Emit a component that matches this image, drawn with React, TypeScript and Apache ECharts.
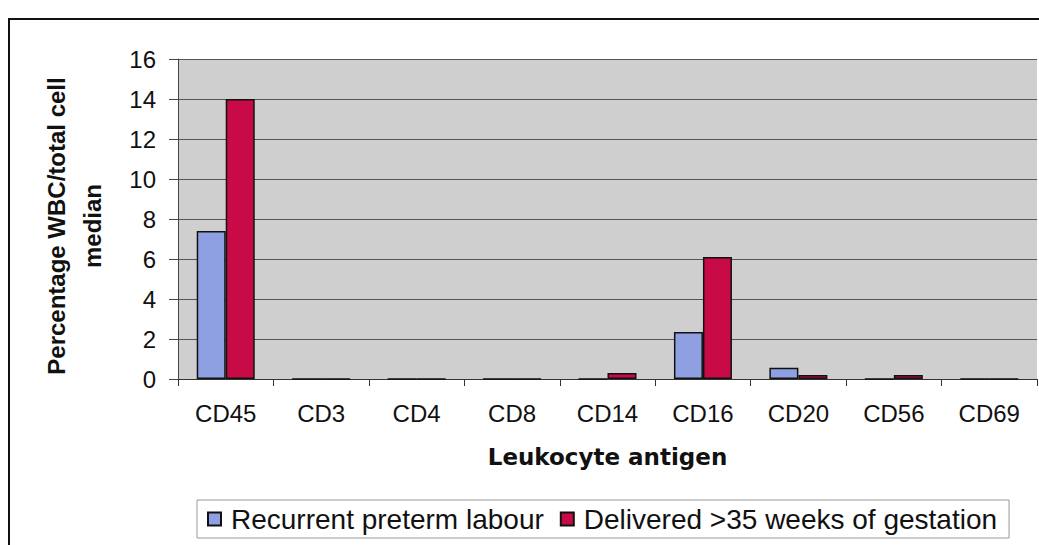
import React, { useEffect, useRef } from "react";
import * as echarts from "echarts";

const categories = ["CD45", "CD3", "CD4", "CD8", "CD14", "CD16", "CD20", "CD56", "CD69"];
const recurrentPreterm = [7.4, 0, 0, 0, 0, 2.35, 0.56, 0, 0];
const deliveredTerm = [14.0, 0, 0, 0, 0.3, 6.1, 0.2, 0.2, 0];
const seriesNames = ["Recurrent preterm labour", "Delivered >35 weeks of gestation"];

const FONT = "'Liberation Sans', Arial, sans-serif";

export default function App() {
  const ref = useRef<HTMLDivElement>(null);
  useEffect(() => {
    if (!ref.current) return;
    const chart = echarts.init(ref.current, undefined, { renderer: "svg" });
    chart.setOption({
      animation: false,
      backgroundColor: "#ffffff",
      textStyle: { fontFamily: FONT },
      graphic: [
        {
          type: "rect",
          shape: { x: 9, y: 19, width: 1100, height: 600 },
          style: { fill: "none", stroke: "#111", lineWidth: 2 },
          silent: true,
        },
      ],
      grid: {
        left: 178,
        right: 2,
        top: 59,
        bottom: 166,
        show: true,
        backgroundColor: "#cfcfcf",
        borderWidth: 0,
      },
      legend: {
        left: 197,
        top: 500,
        itemWidth: 13,
        itemHeight: 13,
        itemGap: 16,
        padding: [5, 12, 5, 10],
        borderColor: "#999",
        borderWidth: 1,
        backgroundColor: "#fff",
        icon: "rect",
        textStyle: { fontSize: 28, color: "#111", fontFamily: FONT, padding: [0, 0, 0, 5] },
        data: seriesNames,
      },
      xAxis: {
        type: "category",
        data: categories,
        name: "Leukocyte antigen",
        nameLocation: "middle",
        nameGap: 66,
        nameTextStyle: { fontSize: 23, fontWeight: "bold", color: "#111", fontFamily: "'DejaVu Sans', sans-serif" },
        axisLine: { lineStyle: { color: "#333", width: 1 } },
        axisTick: { show: true, alignWithLabel: false, length: 7, lineStyle: { color: "#333" } },
        axisLabel: { fontSize: 24, color: "#111", margin: 22, fontFamily: FONT },
      },
      yAxis: {
        type: "value",
        min: 0,
        max: 16,
        interval: 2,
        name: "Percentage WBC/total cell\nmedian",
        nameLocation: "middle",
        nameGap: 68,
        nameTextStyle: {
          fontSize: 24,
          fontWeight: "bold",
          color: "#111",
          lineHeight: 36,
          fontFamily: FONT,
          padding: [0, 14, 0, 0],
        },
        axisLine: { show: true, lineStyle: { color: "#444", width: 1 } },
        axisTick: { show: true, length: 9, lineStyle: { color: "#444" } },
        axisLabel: { fontSize: 24, color: "#111", margin: 22, fontFamily: FONT },
        splitLine: { show: true, lineStyle: { color: "#555", width: 1 } },
      },
      series: [
        {
          name: seriesNames[0],
          type: "bar",
          data: recurrentPreterm,
          barWidth: 29,
          barGap: "0%",
          itemStyle: { color: "#8fa0e2", borderColor: "#111", borderWidth: 1.5 },
        },
        {
          name: seriesNames[1],
          type: "bar",
          data: deliveredTerm,
          barWidth: 29,
          barGap: "0%",
          itemStyle: { color: "#c80a46", borderColor: "#111", borderWidth: 1.5 },
        },
      ],
    });
    return () => chart.dispose();
  }, []);
  return <div ref={ref} style={{ width: 1039, height: 545, position: "absolute", left: 0, top: 0 }} />;
}
